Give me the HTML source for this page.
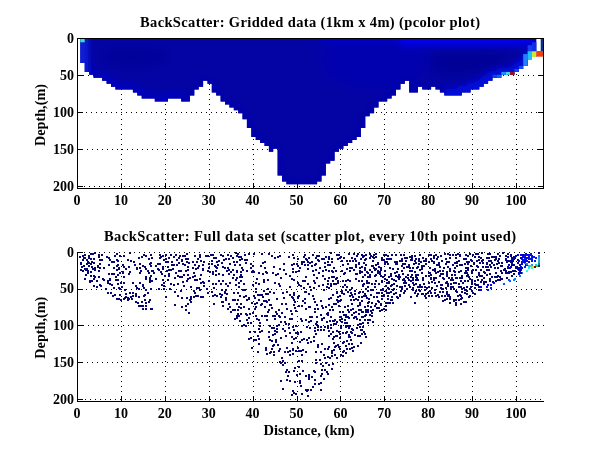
<!DOCTYPE html><html><head><meta charset="utf-8"><style>html,body{margin:0;padding:0;background:#fff}svg{display:block;will-change:transform;opacity:0.999}text{font-family:"Liberation Serif",serif;font-weight:bold;fill:#000}</style></head><body>
<svg width="600" height="451" viewBox="0 0 600 451">
<rect width="600" height="451" fill="#fff"/>
<defs><clipPath id="fc"><path d="M80.3 38.0 L80.3 63.0 L84.7 63.0 L84.7 71.9 L89.1 71.9 L89.1 74.8 L93.5 74.8 L93.5 77.8 L97.8 77.8 L97.8 77.8 L102.2 77.8 L102.2 80.7 L106.6 80.7 L106.6 83.7 L111.0 83.7 L111.0 86.7 L115.4 86.7 L115.4 89.6 L119.8 89.6 L119.8 89.6 L124.1 89.6 L124.1 89.6 L128.5 89.6 L128.5 89.6 L132.9 89.6 L132.9 92.6 L137.3 92.6 L137.3 95.5 L141.7 95.5 L141.7 98.5 L146.1 98.5 L146.1 98.5 L150.5 98.5 L150.5 98.5 L154.8 98.5 L154.8 101.5 L159.2 101.5 L159.2 101.5 L163.6 101.5 L163.6 101.5 L168.0 101.5 L168.0 98.5 L172.4 98.5 L172.4 98.5 L176.8 98.5 L176.8 98.5 L181.2 98.5 L181.2 101.5 L185.5 101.5 L185.5 101.5 L189.9 101.5 L189.9 95.5 L194.3 95.5 L194.3 89.6 L198.7 89.6 L198.7 86.7 L203.1 86.7 L203.1 80.7 L207.5 80.7 L207.5 83.7 L211.8 83.7 L211.8 92.6 L216.2 92.6 L216.2 95.5 L220.6 95.5 L220.6 101.5 L225.0 101.5 L225.0 104.4 L229.4 104.4 L229.4 107.4 L233.8 107.4 L233.8 110.3 L238.2 110.3 L238.2 113.3 L242.5 113.3 L242.5 119.2 L246.9 119.2 L246.9 128.1 L251.3 128.1 L251.3 137.0 L255.7 137.0 L255.7 139.9 L260.1 139.9 L260.1 142.9 L264.5 142.9 L264.5 145.9 L268.9 145.9 L268.9 151.8 L273.2 151.8 L273.2 148.8 L277.6 148.8 L277.6 175.5 L282.0 175.5 L282.0 181.4 L286.4 181.4 L286.4 184.3 L290.8 184.3 L290.8 184.3 L295.2 184.3 L295.2 184.3 L299.6 184.3 L299.6 184.3 L303.9 184.3 L303.9 184.3 L308.3 184.3 L308.3 184.3 L312.7 184.3 L312.7 184.3 L317.1 184.3 L317.1 181.4 L321.5 181.4 L321.5 175.5 L325.9 175.5 L325.9 163.6 L330.2 163.6 L330.2 160.7 L334.6 160.7 L334.6 151.8 L339.0 151.8 L339.0 148.8 L343.4 148.8 L343.4 145.9 L347.8 145.9 L347.8 142.9 L352.2 142.9 L352.2 139.9 L356.6 139.9 L356.6 137.0 L360.9 137.0 L360.9 128.1 L365.3 128.1 L365.3 116.3 L369.7 116.3 L369.7 113.3 L374.1 113.3 L374.1 107.4 L378.5 107.4 L378.5 101.5 L382.9 101.5 L382.9 101.5 L387.2 101.5 L387.2 98.5 L391.6 98.5 L391.6 95.5 L396.0 95.5 L396.0 89.6 L400.4 89.6 L400.4 83.7 L404.8 83.7 L404.8 80.7 L409.2 80.7 L409.2 92.6 L413.6 92.6 L413.6 92.6 L417.9 92.6 L417.9 86.7 L422.3 86.7 L422.3 89.6 L426.7 89.6 L426.7 89.6 L431.1 89.6 L431.1 86.7 L435.5 86.7 L435.5 89.6 L439.9 89.6 L439.9 92.6 L444.3 92.6 L444.3 95.5 L448.6 95.5 L448.6 95.5 L453.0 95.5 L453.0 95.5 L457.4 95.5 L457.4 95.5 L461.8 95.5 L461.8 92.6 L466.2 92.6 L466.2 92.6 L470.6 92.6 L470.6 89.6 L474.9 89.6 L474.9 89.6 L479.3 89.6 L479.3 86.7 L483.7 86.7 L483.7 83.7 L488.1 83.7 L488.1 80.7 L492.5 80.7 L492.5 77.8 L496.9 77.8 L496.9 77.8 L501.3 77.8 L501.3 74.8 L505.6 74.8 L505.6 74.8 L510.0 74.8 L510.0 74.8 L514.4 74.8 L514.4 71.9 L518.8 71.9 L518.8 68.9 L523.2 68.9 L523.2 65.9 L527.6 65.9 L527.6 60.0 L532.0 60.0 L532.0 57.1 L536.3 57.1 L536.3 38.0 Z"/></clipPath><filter id="b3" x="-20%" y="-50%" width="140%" height="200%"><feGaussianBlur stdDeviation="3"/></filter><filter id="b6" x="-20%" y="-50%" width="140%" height="200%"><feGaussianBlur stdDeviation="6"/></filter></defs>
<g shape-rendering="crispEdges">
<path d="M82 75h1M87 75h1M92 75h1M97 75h1M102 75h1M107 75h1M112 75h1M117 75h1M122 75h1M127 75h1M132 75h1M137 75h1M142 75h1M147 75h1M152 75h1M157 75h1M162 75h1M167 75h1M172 75h1M177 75h1M182 75h1M187 75h1M192 75h1M197 75h1M202 75h1M207 75h1M212 75h1M217 75h1M222 75h1M227 75h1M232 75h1M237 75h1M242 75h1M247 75h1M252 75h1M257 75h1M262 75h1M267 75h1M272 75h1M277 75h1M282 75h1M287 75h1M292 75h1M297 75h1M302 75h1M307 75h1M312 75h1M317 75h1M322 75h1M327 75h1M332 75h1M337 75h1M342 75h1M347 75h1M352 75h1M357 75h1M362 75h1M367 75h1M372 75h1M377 75h1M382 75h1M387 75h1M392 75h1M397 75h1M402 75h1M407 75h1M412 75h1M417 75h1M422 75h1M427 75h1M432 75h1M437 75h1M442 75h1M447 75h1M452 75h1M457 75h1M462 75h1M467 75h1M472 75h1M477 75h1M482 75h1M487 75h1M492 75h1M497 75h1M502 75h1M507 75h1M512 75h1M517 75h1M522 75h1M527 75h1M532 75h1M537 75h1M542 75h1M80 112h1M85 112h1M90 112h1M95 112h1M100 112h1M105 112h1M110 112h1M115 112h1M120 112h1M125 112h1M130 112h1M135 112h1M140 112h1M145 112h1M150 112h1M155 112h1M160 112h1M165 112h1M170 112h1M175 112h1M180 112h1M185 112h1M190 112h1M195 112h1M200 112h1M205 112h1M210 112h1M215 112h1M220 112h1M225 112h1M230 112h1M235 112h1M240 112h1M245 112h1M250 112h1M255 112h1M260 112h1M265 112h1M270 112h1M275 112h1M280 112h1M285 112h1M290 112h1M295 112h1M300 112h1M305 112h1M310 112h1M315 112h1M320 112h1M325 112h1M330 112h1M335 112h1M340 112h1M345 112h1M350 112h1M355 112h1M360 112h1M365 112h1M370 112h1M375 112h1M380 112h1M385 112h1M390 112h1M395 112h1M400 112h1M405 112h1M410 112h1M415 112h1M420 112h1M425 112h1M430 112h1M435 112h1M440 112h1M445 112h1M450 112h1M455 112h1M460 112h1M465 112h1M470 112h1M475 112h1M480 112h1M485 112h1M490 112h1M495 112h1M500 112h1M505 112h1M510 112h1M515 112h1M520 112h1M525 112h1M530 112h1M535 112h1M540 112h1M81 149h1M86 149h1M91 149h1M96 149h1M101 149h1M106 149h1M111 149h1M116 149h1M121 149h1M126 149h1M131 149h1M136 149h1M141 149h1M146 149h1M151 149h1M156 149h1M161 149h1M166 149h1M171 149h1M176 149h1M181 149h1M186 149h1M191 149h1M196 149h1M201 149h1M206 149h1M211 149h1M216 149h1M221 149h1M226 149h1M231 149h1M236 149h1M241 149h1M246 149h1M251 149h1M256 149h1M261 149h1M266 149h1M271 149h1M276 149h1M281 149h1M286 149h1M291 149h1M296 149h1M301 149h1M306 149h1M311 149h1M316 149h1M321 149h1M326 149h1M331 149h1M336 149h1M341 149h1M346 149h1M351 149h1M356 149h1M361 149h1M366 149h1M371 149h1M376 149h1M381 149h1M386 149h1M391 149h1M396 149h1M401 149h1M406 149h1M411 149h1M416 149h1M421 149h1M426 149h1M431 149h1M436 149h1M441 149h1M446 149h1M451 149h1M456 149h1M461 149h1M466 149h1M471 149h1M476 149h1M481 149h1M486 149h1M491 149h1M496 149h1M501 149h1M506 149h1M511 149h1M516 149h1M521 149h1M526 149h1M531 149h1M536 149h1M541 149h1M78 186h1M83 186h1M88 186h1M93 186h1M98 186h1M103 186h1M108 186h1M113 186h1M118 186h1M123 186h1M128 186h1M133 186h1M138 186h1M143 186h1M148 186h1M153 186h1M158 186h1M163 186h1M168 186h1M173 186h1M178 186h1M183 186h1M188 186h1M193 186h1M198 186h1M203 186h1M208 186h1M213 186h1M218 186h1M223 186h1M228 186h1M233 186h1M238 186h1M243 186h1M248 186h1M253 186h1M258 186h1M263 186h1M268 186h1M273 186h1M278 186h1M283 186h1M288 186h1M293 186h1M298 186h1M303 186h1M308 186h1M313 186h1M318 186h1M323 186h1M328 186h1M333 186h1M338 186h1M343 186h1M348 186h1M353 186h1M358 186h1M363 186h1M368 186h1M373 186h1M378 186h1M383 186h1M388 186h1M393 186h1M398 186h1M403 186h1M408 186h1M413 186h1M418 186h1M423 186h1M428 186h1M433 186h1M438 186h1M443 186h1M448 186h1M453 186h1M458 186h1M463 186h1M468 186h1M473 186h1M478 186h1M483 186h1M488 186h1M493 186h1M498 186h1M503 186h1M508 186h1M513 186h1M518 186h1M523 186h1M528 186h1M533 186h1M538 186h1M121 43v1M121 48v1M121 53v1M121 58v1M121 63v1M121 68v1M121 73v1M121 78v1M121 83v1M121 88v1M121 93v1M121 98v1M121 103v1M121 108v1M121 113v1M121 118v1M121 123v1M121 128v1M121 133v1M121 138v1M121 143v1M121 148v1M121 153v1M121 158v1M121 163v1M121 168v1M121 173v1M121 178v1M121 183v1M165 43v1M165 48v1M165 53v1M165 58v1M165 63v1M165 68v1M165 73v1M165 78v1M165 83v1M165 88v1M165 93v1M165 98v1M165 103v1M165 108v1M165 113v1M165 118v1M165 123v1M165 128v1M165 133v1M165 138v1M165 143v1M165 148v1M165 153v1M165 158v1M165 163v1M165 168v1M165 173v1M165 178v1M165 183v1M209 43v1M209 48v1M209 53v1M209 58v1M209 63v1M209 68v1M209 73v1M209 78v1M209 83v1M209 88v1M209 93v1M209 98v1M209 103v1M209 108v1M209 113v1M209 118v1M209 123v1M209 128v1M209 133v1M209 138v1M209 143v1M209 148v1M209 153v1M209 158v1M209 163v1M209 168v1M209 173v1M209 178v1M209 183v1M253 43v1M253 48v1M253 53v1M253 58v1M253 63v1M253 68v1M253 73v1M253 78v1M253 83v1M253 88v1M253 93v1M253 98v1M253 103v1M253 108v1M253 113v1M253 118v1M253 123v1M253 128v1M253 133v1M253 138v1M253 143v1M253 148v1M253 153v1M253 158v1M253 163v1M253 168v1M253 173v1M253 178v1M253 183v1M297 43v1M297 48v1M297 53v1M297 58v1M297 63v1M297 68v1M297 73v1M297 78v1M297 83v1M297 88v1M297 93v1M297 98v1M297 103v1M297 108v1M297 113v1M297 118v1M297 123v1M297 128v1M297 133v1M297 138v1M297 143v1M297 148v1M297 153v1M297 158v1M297 163v1M297 168v1M297 173v1M297 178v1M297 183v1M340 43v1M340 48v1M340 53v1M340 58v1M340 63v1M340 68v1M340 73v1M340 78v1M340 83v1M340 88v1M340 93v1M340 98v1M340 103v1M340 108v1M340 113v1M340 118v1M340 123v1M340 128v1M340 133v1M340 138v1M340 143v1M340 148v1M340 153v1M340 158v1M340 163v1M340 168v1M340 173v1M340 178v1M340 183v1M384 43v1M384 48v1M384 53v1M384 58v1M384 63v1M384 68v1M384 73v1M384 78v1M384 83v1M384 88v1M384 93v1M384 98v1M384 103v1M384 108v1M384 113v1M384 118v1M384 123v1M384 128v1M384 133v1M384 138v1M384 143v1M384 148v1M384 153v1M384 158v1M384 163v1M384 168v1M384 173v1M384 178v1M384 183v1M428 43v1M428 48v1M428 53v1M428 58v1M428 63v1M428 68v1M428 73v1M428 78v1M428 83v1M428 88v1M428 93v1M428 98v1M428 103v1M428 108v1M428 113v1M428 118v1M428 123v1M428 128v1M428 133v1M428 138v1M428 143v1M428 148v1M428 153v1M428 158v1M428 163v1M428 168v1M428 173v1M428 178v1M428 183v1M472 43v1M472 48v1M472 53v1M472 58v1M472 63v1M472 68v1M472 73v1M472 78v1M472 83v1M472 88v1M472 93v1M472 98v1M472 103v1M472 108v1M472 113v1M472 118v1M472 123v1M472 128v1M472 133v1M472 138v1M472 143v1M472 148v1M472 153v1M472 158v1M472 163v1M472 168v1M472 173v1M472 178v1M472 183v1M516 43v1M516 48v1M516 53v1M516 58v1M516 63v1M516 68v1M516 73v1M516 78v1M516 83v1M516 88v1M516 93v1M516 98v1M516 103v1M516 108v1M516 113v1M516 118v1M516 123v1M516 128v1M516 133v1M516 138v1M516 143v1M516 148v1M516 153v1M516 158v1M516 163v1M516 168v1M516 173v1M516 178v1M516 183v1" stroke="#000" stroke-width="1" fill="none" transform="translate(0.5,0.5)"/>
</g>
<g shape-rendering="crispEdges" fill="#000">
<rect x="78" y="75" width="5" height="1"/><rect x="538" y="75" width="5" height="1"/>
<rect x="78" y="112" width="5" height="1"/><rect x="538" y="112" width="5" height="1"/>
<rect x="78" y="149" width="5" height="1"/><rect x="538" y="149" width="5" height="1"/>
<rect x="78" y="186" width="5" height="1"/><rect x="538" y="186" width="5" height="1"/>
<rect x="121" y="183" width="1" height="5"/><rect x="121" y="39" width="1" height="5"/>
<rect x="165" y="183" width="1" height="5"/><rect x="165" y="39" width="1" height="5"/>
<rect x="209" y="183" width="1" height="5"/><rect x="209" y="39" width="1" height="5"/>
<rect x="253" y="183" width="1" height="5"/><rect x="253" y="39" width="1" height="5"/>
<rect x="297" y="183" width="1" height="5"/><rect x="297" y="39" width="1" height="5"/>
<rect x="340" y="183" width="1" height="5"/><rect x="340" y="39" width="1" height="5"/>
<rect x="384" y="183" width="1" height="5"/><rect x="384" y="39" width="1" height="5"/>
<rect x="428" y="183" width="1" height="5"/><rect x="428" y="39" width="1" height="5"/>
<rect x="472" y="183" width="1" height="5"/><rect x="472" y="39" width="1" height="5"/>
<rect x="516" y="183" width="1" height="5"/><rect x="516" y="39" width="1" height="5"/>
</g>
<g clip-path="url(#fc)">
<rect x="78" y="38" width="466" height="150" fill="#0404a4"/>
<g filter="url(#b6)">
<ellipse cx="375" cy="60" rx="55" ry="30" fill="#0000b4" opacity="0.7"/>
<ellipse cx="135" cy="57" rx="34" ry="9" fill="#00009a"/>
<path d="M430 54 L515 51 L508 60 L488 68 L455 76 L432 70Z" fill="#000096"/>
</g>
<g filter="url(#b3)" fill="none" stroke-linejoin="round">
<path d="M80.3 63.0 L84.7 63.0 L84.7 71.9 L89.1 71.9 L89.1 74.8 L93.5 74.8 L93.5 77.8 L97.8 77.8 L97.8 77.8 L102.2 77.8 L102.2 80.7 L106.6 80.7 L106.6 83.7 L111.0 83.7 L111.0 86.7 L115.4 86.7 L115.4 89.6 L119.8 89.6 L119.8 89.6 L124.1 89.6 L124.1 89.6 L128.5 89.6 L128.5 89.6 L132.9 89.6 L132.9 92.6 L137.3 92.6 L137.3 95.5 L141.7 95.5 L141.7 98.5 L146.1 98.5 L146.1 98.5 L150.5 98.5 L150.5 98.5 L154.8 98.5 L154.8 101.5 L159.2 101.5 L159.2 101.5 L163.6 101.5 L163.6 101.5 L168.0 101.5 L168.0 98.5 L172.4 98.5 L172.4 98.5 L176.8 98.5 L176.8 98.5 L181.2 98.5 L181.2 101.5 L185.5 101.5" stroke="#0404bc" stroke-width="12"/>
<path d="M181.2 101.5 L185.5 101.5 L185.5 101.5 L189.9 101.5 L189.9 95.5 L194.3 95.5 L194.3 89.6 L198.7 89.6 L198.7 86.7 L203.1 86.7 L203.1 80.7 L207.5 80.7 L207.5 83.7 L211.8 83.7 L211.8 92.6 L216.2 92.6 L216.2 95.5 L220.6 95.5 L220.6 101.5 L225.0 101.5 L225.0 104.4 L229.4 104.4 L229.4 107.4 L233.8 107.4 L233.8 110.3 L238.2 110.3 L238.2 113.3 L242.5 113.3 L242.5 119.2 L246.9 119.2 L246.9 128.1 L251.3 128.1 L251.3 137.0 L255.7 137.0 L255.7 139.9 L260.1 139.9 L260.1 142.9 L264.5 142.9 L264.5 145.9 L268.9 145.9 L268.9 151.8 L273.2 151.8 L273.2 148.8 L277.6 148.8 L277.6 175.5 L282.0 175.5 L282.0 181.4 L286.4 181.4 L286.4 184.3 L290.8 184.3 L290.8 184.3 L295.2 184.3 L295.2 184.3 L299.6 184.3 L299.6 184.3 L303.9 184.3 L303.9 184.3 L308.3 184.3 L308.3 184.3 L312.7 184.3 L312.7 184.3 L317.1 184.3 L317.1 181.4 L321.5 181.4 L321.5 175.5 L325.9 175.5 L325.9 163.6 L330.2 163.6 L330.2 160.7 L334.6 160.7 L334.6 151.8 L339.0 151.8 L339.0 148.8 L343.4 148.8 L343.4 145.9 L347.8 145.9 L347.8 142.9 L352.2 142.9 L352.2 139.9 L356.6 139.9 L356.6 137.0 L360.9 137.0 L360.9 128.1 L365.3 128.1 L365.3 116.3 L369.7 116.3 L369.7 113.3 L374.1 113.3 L374.1 107.4 L378.5 107.4 L378.5 101.5 L382.9 101.5 L382.9 101.5 L387.2 101.5 L387.2 98.5 L391.6 98.5 L391.6 95.5 L396.0 95.5 L396.0 89.6 L400.4 89.6 L400.4 83.7 L404.8 83.7 L404.8 80.7 L409.2 80.7 L409.2 92.6 L413.6 92.6 L413.6 92.6 L417.9 92.6 L417.9 86.7 L422.3 86.7 L422.3 89.6 L426.7 89.6 L426.7 89.6 L431.1 89.6 L431.1 86.7 L435.5 86.7 L435.5 89.6 L439.9 89.6 L439.9 92.6 L444.3 92.6 L444.3 95.5 L448.6 95.5" stroke="#0606aa" stroke-width="8"/>
<path d="M444.3 95.5 L448.6 95.5 L448.6 95.5 L453.0 95.5 L453.0 95.5 L457.4 95.5 L457.4 95.5 L461.8 95.5 L461.8 92.6 L466.2 92.6 L466.2 92.6 L470.6 92.6 L470.6 89.6 L474.9 89.6 L474.9 89.6 L479.3 89.6 L479.3 86.7 L483.7 86.7 L483.7 83.7 L488.1 83.7 L488.1 80.7 L492.5 80.7 L492.5 77.8 L496.9 77.8 L496.9 77.8 L501.3 77.8 L501.3 74.8 L505.6 74.8 L505.6 74.8 L510.0 74.8 L510.0 74.8 L514.4 74.8 L514.4 71.9 L518.8 71.9 L518.8 68.9 L523.2 68.9 L523.2 65.9 L527.6 65.9 L527.6 60.0 L532.0 60.0 L532.0 57.1 L536.3 57.1" stroke="#0008dc" stroke-width="14"/>
<rect x="400" y="36" width="135" height="10" fill="#0000ec" stroke="none"/>
<rect x="320" y="36" width="80" height="7" fill="#0000c8" stroke="none"/>
<rect x="75" y="36" width="13" height="42" fill="#0c1cd8" stroke="none"/>
</g>
</g>
<g>
<rect x="80.3" y="38.5" width="4.4" height="3.8" fill="#30e0d0"/>
<rect x="510.0" y="71.9" width="4.4" height="3.0" fill="#a01010"/>
<rect x="505.6" y="71.9" width="4.4" height="3.0" fill="#40d8e8"/>
<rect x="501.3" y="71.9" width="4.4" height="3.0" fill="#2090ff"/>
<rect x="496.9" y="74.8" width="4.4" height="3.0" fill="#1060f0"/>
<rect x="492.5" y="74.8" width="4.4" height="3.0" fill="#1040e8"/>
<rect x="514.4" y="68.9" width="4.4" height="3.0" fill="#1848f0"/>
<rect x="518.8" y="65.9" width="4.4" height="3.0" fill="#1848f0"/>
<rect x="523.2" y="54.1" width="4.4" height="11.8" fill="#2080ff"/>
<rect x="527.6" y="51.1" width="4.4" height="8.9" fill="#20c0ff"/>
<rect x="527.6" y="45.2" width="4.4" height="5.9" fill="#1040f0"/>
<rect x="532.0" y="51.1" width="4.4" height="5.9" fill="#c8e838"/>
<rect x="532.0" y="42.3" width="4.4" height="8.9" fill="#1030e8"/>
<rect x="536.3" y="51" width="7" height="5.7" fill="#f04010"/>
<rect x="540.7" y="39" width="2.5" height="12" fill="#003090"/>
</g>
<g shape-rendering="crispEdges" fill="#000">
<rect x="77" y="38" width="467" height="1"/><rect x="77" y="188" width="467" height="1"/><rect x="77" y="38" width="1" height="151"/><rect x="543" y="38" width="1" height="151"/>
</g>
<g shape-rendering="crispEdges"><path d="M78 252h1M83 252h1M88 252h1M93 252h1M98 252h1M103 252h1M108 252h1M113 252h1M118 252h1M123 252h1M128 252h1M133 252h1M138 252h1M143 252h1M148 252h1M153 252h1M158 252h1M163 252h1M168 252h1M173 252h1M178 252h1M183 252h1M188 252h1M193 252h1M198 252h1M203 252h1M208 252h1M213 252h1M218 252h1M223 252h1M228 252h1M233 252h1M238 252h1M243 252h1M248 252h1M253 252h1M258 252h1M263 252h1M268 252h1M273 252h1M278 252h1M283 252h1M288 252h1M293 252h1M298 252h1M303 252h1M308 252h1M313 252h1M318 252h1M323 252h1M328 252h1M333 252h1M338 252h1M343 252h1M348 252h1M353 252h1M358 252h1M363 252h1M368 252h1M373 252h1M378 252h1M383 252h1M388 252h1M393 252h1M398 252h1M403 252h1M408 252h1M413 252h1M418 252h1M423 252h1M428 252h1M433 252h1M438 252h1M443 252h1M448 252h1M453 252h1M458 252h1M463 252h1M468 252h1M473 252h1M478 252h1M483 252h1M488 252h1M493 252h1M498 252h1M503 252h1M508 252h1M513 252h1M518 252h1M523 252h1M528 252h1M533 252h1M538 252h1M543 252h1M80 289h1M85 289h1M90 289h1M95 289h1M100 289h1M105 289h1M110 289h1M115 289h1M120 289h1M125 289h1M130 289h1M135 289h1M140 289h1M145 289h1M150 289h1M155 289h1M160 289h1M165 289h1M170 289h1M175 289h1M180 289h1M185 289h1M190 289h1M195 289h1M200 289h1M205 289h1M210 289h1M215 289h1M220 289h1M225 289h1M230 289h1M235 289h1M240 289h1M245 289h1M250 289h1M255 289h1M260 289h1M265 289h1M270 289h1M275 289h1M280 289h1M285 289h1M290 289h1M295 289h1M300 289h1M305 289h1M310 289h1M315 289h1M320 289h1M325 289h1M330 289h1M335 289h1M340 289h1M345 289h1M350 289h1M355 289h1M360 289h1M365 289h1M370 289h1M375 289h1M380 289h1M385 289h1M390 289h1M395 289h1M400 289h1M405 289h1M410 289h1M415 289h1M420 289h1M425 289h1M430 289h1M435 289h1M440 289h1M445 289h1M450 289h1M455 289h1M460 289h1M465 289h1M470 289h1M475 289h1M480 289h1M485 289h1M490 289h1M495 289h1M500 289h1M505 289h1M510 289h1M515 289h1M520 289h1M525 289h1M530 289h1M535 289h1M540 289h1M82 325h1M87 325h1M92 325h1M97 325h1M102 325h1M107 325h1M112 325h1M117 325h1M122 325h1M127 325h1M132 325h1M137 325h1M142 325h1M147 325h1M152 325h1M157 325h1M162 325h1M167 325h1M172 325h1M177 325h1M182 325h1M187 325h1M192 325h1M197 325h1M202 325h1M207 325h1M212 325h1M217 325h1M222 325h1M227 325h1M232 325h1M237 325h1M242 325h1M247 325h1M252 325h1M257 325h1M262 325h1M267 325h1M272 325h1M277 325h1M282 325h1M287 325h1M292 325h1M297 325h1M302 325h1M307 325h1M312 325h1M317 325h1M322 325h1M327 325h1M332 325h1M337 325h1M342 325h1M347 325h1M352 325h1M357 325h1M362 325h1M367 325h1M372 325h1M377 325h1M382 325h1M387 325h1M392 325h1M397 325h1M402 325h1M407 325h1M412 325h1M417 325h1M422 325h1M427 325h1M432 325h1M437 325h1M442 325h1M447 325h1M452 325h1M457 325h1M462 325h1M467 325h1M472 325h1M477 325h1M482 325h1M487 325h1M492 325h1M497 325h1M502 325h1M507 325h1M512 325h1M517 325h1M522 325h1M527 325h1M532 325h1M537 325h1M542 325h1M81 362h1M86 362h1M91 362h1M96 362h1M101 362h1M106 362h1M111 362h1M116 362h1M121 362h1M126 362h1M131 362h1M136 362h1M141 362h1M146 362h1M151 362h1M156 362h1M161 362h1M166 362h1M171 362h1M176 362h1M181 362h1M186 362h1M191 362h1M196 362h1M201 362h1M206 362h1M211 362h1M216 362h1M221 362h1M226 362h1M231 362h1M236 362h1M241 362h1M246 362h1M251 362h1M256 362h1M261 362h1M266 362h1M271 362h1M276 362h1M281 362h1M286 362h1M291 362h1M296 362h1M301 362h1M306 362h1M311 362h1M316 362h1M321 362h1M326 362h1M331 362h1M336 362h1M341 362h1M346 362h1M351 362h1M356 362h1M361 362h1M366 362h1M371 362h1M376 362h1M381 362h1M386 362h1M391 362h1M396 362h1M401 362h1M406 362h1M411 362h1M416 362h1M421 362h1M426 362h1M431 362h1M436 362h1M441 362h1M446 362h1M451 362h1M456 362h1M461 362h1M466 362h1M471 362h1M476 362h1M481 362h1M486 362h1M491 362h1M496 362h1M501 362h1M506 362h1M511 362h1M516 362h1M521 362h1M526 362h1M531 362h1M536 362h1M541 362h1M79 399h1M84 399h1M89 399h1M94 399h1M99 399h1M104 399h1M109 399h1M114 399h1M119 399h1M124 399h1M129 399h1M134 399h1M139 399h1M144 399h1M149 399h1M154 399h1M159 399h1M164 399h1M169 399h1M174 399h1M179 399h1M184 399h1M189 399h1M194 399h1M199 399h1M204 399h1M209 399h1M214 399h1M219 399h1M224 399h1M229 399h1M234 399h1M239 399h1M244 399h1M249 399h1M254 399h1M259 399h1M264 399h1M269 399h1M274 399h1M279 399h1M284 399h1M289 399h1M294 399h1M299 399h1M304 399h1M309 399h1M314 399h1M319 399h1M324 399h1M329 399h1M334 399h1M339 399h1M344 399h1M349 399h1M354 399h1M359 399h1M364 399h1M369 399h1M374 399h1M379 399h1M384 399h1M389 399h1M394 399h1M399 399h1M404 399h1M409 399h1M414 399h1M419 399h1M424 399h1M429 399h1M434 399h1M439 399h1M444 399h1M449 399h1M454 399h1M459 399h1M464 399h1M469 399h1M474 399h1M479 399h1M484 399h1M489 399h1M494 399h1M499 399h1M504 399h1M509 399h1M514 399h1M519 399h1M524 399h1M529 399h1M534 399h1M539 399h1M121 255v1M121 260v1M121 265v1M121 270v1M121 275v1M121 280v1M121 285v1M121 290v1M121 295v1M121 300v1M121 305v1M121 310v1M121 315v1M121 320v1M121 325v1M121 330v1M121 335v1M121 340v1M121 345v1M121 350v1M121 355v1M121 360v1M121 365v1M121 370v1M121 375v1M121 380v1M121 385v1M121 390v1M121 395v1M121 400v1M165 255v1M165 260v1M165 265v1M165 270v1M165 275v1M165 280v1M165 285v1M165 290v1M165 295v1M165 300v1M165 305v1M165 310v1M165 315v1M165 320v1M165 325v1M165 330v1M165 335v1M165 340v1M165 345v1M165 350v1M165 355v1M165 360v1M165 365v1M165 370v1M165 375v1M165 380v1M165 385v1M165 390v1M165 395v1M165 400v1M209 255v1M209 260v1M209 265v1M209 270v1M209 275v1M209 280v1M209 285v1M209 290v1M209 295v1M209 300v1M209 305v1M209 310v1M209 315v1M209 320v1M209 325v1M209 330v1M209 335v1M209 340v1M209 345v1M209 350v1M209 355v1M209 360v1M209 365v1M209 370v1M209 375v1M209 380v1M209 385v1M209 390v1M209 395v1M209 400v1M253 255v1M253 260v1M253 265v1M253 270v1M253 275v1M253 280v1M253 285v1M253 290v1M253 295v1M253 300v1M253 305v1M253 310v1M253 315v1M253 320v1M253 325v1M253 330v1M253 335v1M253 340v1M253 345v1M253 350v1M253 355v1M253 360v1M253 365v1M253 370v1M253 375v1M253 380v1M253 385v1M253 390v1M253 395v1M253 400v1M297 255v1M297 260v1M297 265v1M297 270v1M297 275v1M297 280v1M297 285v1M297 290v1M297 295v1M297 300v1M297 305v1M297 310v1M297 315v1M297 320v1M297 325v1M297 330v1M297 335v1M297 340v1M297 345v1M297 350v1M297 355v1M297 360v1M297 365v1M297 370v1M297 375v1M297 380v1M297 385v1M297 390v1M297 395v1M297 400v1M340 255v1M340 260v1M340 265v1M340 270v1M340 275v1M340 280v1M340 285v1M340 290v1M340 295v1M340 300v1M340 305v1M340 310v1M340 315v1M340 320v1M340 325v1M340 330v1M340 335v1M340 340v1M340 345v1M340 350v1M340 355v1M340 360v1M340 365v1M340 370v1M340 375v1M340 380v1M340 385v1M340 390v1M340 395v1M340 400v1M384 255v1M384 260v1M384 265v1M384 270v1M384 275v1M384 280v1M384 285v1M384 290v1M384 295v1M384 300v1M384 305v1M384 310v1M384 315v1M384 320v1M384 325v1M384 330v1M384 335v1M384 340v1M384 345v1M384 350v1M384 355v1M384 360v1M384 365v1M384 370v1M384 375v1M384 380v1M384 385v1M384 390v1M384 395v1M384 400v1M428 255v1M428 260v1M428 265v1M428 270v1M428 275v1M428 280v1M428 285v1M428 290v1M428 295v1M428 300v1M428 305v1M428 310v1M428 315v1M428 320v1M428 325v1M428 330v1M428 335v1M428 340v1M428 345v1M428 350v1M428 355v1M428 360v1M428 365v1M428 370v1M428 375v1M428 380v1M428 385v1M428 390v1M428 395v1M428 400v1M472 255v1M472 260v1M472 265v1M472 270v1M472 275v1M472 280v1M472 285v1M472 290v1M472 295v1M472 300v1M472 305v1M472 310v1M472 315v1M472 320v1M472 325v1M472 330v1M472 335v1M472 340v1M472 345v1M472 350v1M472 355v1M472 360v1M472 365v1M472 370v1M472 375v1M472 380v1M472 385v1M472 390v1M472 395v1M472 400v1M516 255v1M516 260v1M516 265v1M516 270v1M516 275v1M516 280v1M516 285v1M516 290v1M516 295v1M516 300v1M516 305v1M516 310v1M516 315v1M516 320v1M516 325v1M516 330v1M516 335v1M516 340v1M516 345v1M516 350v1M516 355v1M516 360v1M516 365v1M516 370v1M516 375v1M516 380v1M516 385v1M516 390v1M516 395v1M516 400v1" stroke="#000" stroke-width="1" fill="none" transform="translate(0.5,0.5)"/></g>
<g shape-rendering="crispEdges">
<path d="M89 280h2v2h-2zM85 274h2v2h-2zM91 280h2v2h-2zM81 266h2v2h-2zM85 269h2v2h-2zM87 272h2v2h-2zM90 275h2v2h-2zM93 278h2v2h-2zM80 263h2v2h-2zM84 268h2v2h-2zM87 270h2v2h-2zM94 276h2v2h-2zM96 280h2v2h-2zM80 262h2v2h-2zM83 265h2v2h-2zM86 268h2v2h-2zM90 271h2v2h-2zM93 275h2v2h-2zM79 256h2v2h-2zM82 259h2v2h-2zM86 263h2v2h-2zM88 265h2v2h-2zM92 268h2v2h-2zM98 276h2v2h-2zM102 278h2v2h-2zM83 257h2v2h-2zM86 259h2v2h-2zM88 262h2v2h-2zM91 266h2v2h-2zM94 269h2v2h-2zM103 279h2v2h-2zM107 282h2v2h-2zM111 284h2v2h-2zM113 287h2v2h-2zM119 294h2v2h-2zM82 255h2v2h-2zM84 257h2v2h-2zM87 261h2v2h-2zM90 263h2v2h-2zM94 267h2v2h-2zM98 270h2v2h-2zM107 280h2v2h-2zM109 283h2v2h-2zM84 254h2v2h-2zM88 257h2v2h-2zM91 261h2v2h-2zM97 266h2v2h-2zM109 279h2v2h-2zM119 288h2v2h-2zM125 296h2v2h-2zM127 299h2v2h-2zM88 255h2v2h-2zM90 258h2v2h-2zM93 262h2v2h-2zM97 265h2v2h-2zM99 267h2v2h-2zM109 278h2v2h-2zM118 287h2v2h-2zM125 293h2v2h-2zM90 253h2v2h-2zM93 258h2v2h-2zM99 263h2v2h-2zM103 267h2v2h-2zM108 273h2v2h-2zM115 279h2v2h-2zM117 283h2v2h-2zM121 286h2v2h-2zM124 289h2v2h-2zM130 296h2v2h-2zM92 253h2v2h-2zM99 259h2v2h-2zM111 273h2v2h-2zM115 276h2v2h-2zM117 279h2v2h-2zM120 282h2v2h-2zM129 292h2v2h-2zM132 295h2v2h-2zM142 305h2v2h-2zM94 252h2v2h-2zM98 256h2v2h-2zM101 259h2v2h-2zM113 273h2v2h-2zM123 282h2v2h-2zM132 292h2v2h-2zM135 295h2v2h-2zM141 301h2v2h-2zM145 305h2v2h-2zM98 254h2v2h-2zM108 264h2v2h-2zM117 274h2v2h-2zM135 293h2v2h-2zM138 296h2v2h-2zM145 302h2v2h-2zM101 254h2v2h-2zM113 267h2v2h-2zM116 269h2v2h-2zM119 272h2v2h-2zM123 276h2v2h-2zM144 299h2v2h-2zM148 301h2v2h-2zM106 256h2v2h-2zM109 259h2v2h-2zM116 265h2v2h-2zM118 268h2v2h-2zM122 272h2v2h-2zM132 282h2v2h-2zM135 285h2v2h-2zM143 295h2v2h-2zM108 257h2v2h-2zM111 261h2v2h-2zM118 267h2v2h-2zM136 287h2v2h-2zM149 299h2v2h-2zM113 261h2v2h-2zM117 264h2v2h-2zM122 271h2v2h-2zM138 288h2v2h-2zM144 294h2v2h-2zM117 260h2v2h-2zM123 266h2v2h-2zM128 273h2v2h-2zM139 282h2v2h-2zM142 285h2v2h-2zM145 289h2v2h-2zM147 292h2v2h-2zM114 255h2v2h-2zM116 259h2v2h-2zM122 264h2v2h-2zM125 268h2v2h-2zM129 271h2v2h-2zM142 284h2v2h-2zM143 287h2v2h-2zM116 253h2v2h-2zM119 255h2v2h-2zM128 266h2v2h-2zM150 288h2v2h-2zM127 259h2v2h-2zM136 268h2v2h-2zM139 272h2v2h-2zM145 278h2v2h-2zM149 281h2v2h-2zM123 255h2v2h-2zM130 260h2v2h-2zM134 264h2v2h-2zM136 267h2v2h-2zM140 270h2v2h-2zM145 276h2v2h-2zM149 279h2v2h-2zM158 288h2v2h-2zM165 296h2v2h-2zM174 304h2v2h-2zM133 261h2v2h-2zM139 267h2v2h-2zM149 277h2v2h-2zM151 280h2v2h-2zM129 252h2v2h-2zM139 263h2v2h-2zM142 265h2v2h-2zM145 268h2v2h-2zM148 272h2v2h-2zM150 275h2v2h-2zM155 278h2v2h-2zM161 284h2v2h-2zM163 288h2v2h-2zM181 306h2v2h-2zM185 309h2v2h-2zM144 266h2v2h-2zM147 270h2v2h-2zM163 285h2v2h-2zM188 312h2v2h-2zM138 257h2v2h-2zM151 270h2v2h-2zM153 272h2v2h-2zM163 282h2v2h-2zM169 288h2v2h-2zM185 305h2v2h-2zM141 256h2v2h-2zM150 265h2v2h-2zM152 270h2v2h-2zM162 279h2v2h-2zM174 291h2v2h-2zM177 295h2v2h-2zM181 297h2v2h-2zM187 303h2v2h-2zM149 263h2v2h-2zM143 254h2v2h-2zM155 265h2v2h-2zM158 269h2v2h-2zM161 273h2v2h-2zM167 279h2v2h-2zM170 283h2v2h-2zM190 301h2v2h-2zM145 255h2v2h-2zM148 258h2v2h-2zM150 262h2v2h-2zM157 268h2v2h-2zM160 271h2v2h-2zM164 275h2v2h-2zM173 284h2v2h-2zM180 290h2v2h-2zM186 297h2v2h-2zM189 299h2v2h-2zM151 257h2v2h-2zM157 263h2v2h-2zM162 268h2v2h-2zM168 275h2v2h-2zM190 298h2v2h-2zM150 254h2v2h-2zM159 263h2v2h-2zM162 266h2v2h-2zM166 270h2v2h-2zM168 273h2v2h-2zM177 283h2v2h-2zM190 296h2v2h-2zM168 269h2v2h-2zM174 277h2v2h-2zM183 285h2v2h-2zM193 296h2v2h-2zM282 388h2v2h-2zM159 257h2v2h-2zM167 266h2v2h-2zM170 269h2v2h-2zM177 275h2v2h-2zM182 281h2v2h-2zM195 295h2v2h-2zM280 380h2v2h-2zM291 394h2v2h-2zM160 256h2v2h-2zM163 259h2v2h-2zM175 272h2v2h-2zM179 276h2v2h-2zM194 292h2v2h-2zM197 295h2v2h-2zM159 254h2v2h-2zM165 261h2v2h-2zM172 268h2v2h-2zM181 276h2v2h-2zM190 286h2v2h-2zM193 290h2v2h-2zM200 296h2v2h-2zM293 392h2v2h-2zM162 255h2v2h-2zM165 258h2v2h-2zM167 261h2v2h-2zM171 264h2v2h-2zM178 270h2v2h-2zM186 280h2v2h-2zM202 296h2v2h-2zM251 347h2v2h-2zM292 390h2v2h-2zM295 393h2v2h-2zM165 254h2v2h-2zM168 257h2v2h-2zM171 261h2v2h-2zM173 264h2v2h-2zM180 270h2v2h-2zM183 274h2v2h-2zM187 278h2v2h-2zM196 287h2v2h-2zM199 289h2v2h-2zM257 351h2v2h-2zM286 379h2v2h-2zM176 264h2v2h-2zM187 274h2v2h-2zM189 277h2v2h-2zM198 287h2v2h-2zM213 303h2v2h-2zM248 338h2v2h-2zM289 380h2v2h-2zM301 393h2v2h-2zM170 254h2v2h-2zM173 256h2v2h-2zM176 259h2v2h-2zM178 262h2v2h-2zM185 270h2v2h-2zM192 276h2v2h-2zM194 279h2v2h-2zM207 292h2v2h-2zM250 337h2v2h-2zM253 339h2v2h-2zM266 353h2v2h-2zM285 371h2v2h-2zM287 375h2v2h-2zM294 381h2v2h-2zM307 395h2v2h-2zM182 263h2v2h-2zM187 269h2v2h-2zM194 275h2v2h-2zM196 279h2v2h-2zM200 282h2v2h-2zM203 285h2v2h-2zM206 288h2v2h-2zM212 295h2v2h-2zM222 305h2v2h-2zM234 318h2v2h-2zM241 325h2v2h-2zM255 339h2v2h-2zM258 343h2v2h-2zM265 349h2v2h-2zM269 352h2v2h-2zM300 385h2v2h-2zM306 390h2v2h-2zM175 254h2v2h-2zM178 257h2v2h-2zM181 260h2v2h-2zM184 264h2v2h-2zM187 266h2v2h-2zM193 272h2v2h-2zM203 282h2v2h-2zM216 295h2v2h-2zM222 301h2v2h-2zM227 308h2v2h-2zM230 311h2v2h-2zM236 317h2v2h-2zM243 324h2v2h-2zM249 331h2v2h-2zM265 347h2v2h-2zM280 362h2v2h-2zM286 369h2v2h-2zM299 382h2v2h-2zM305 389h2v2h-2zM181 259h2v2h-2zM199 278h2v2h-2zM202 281h2v2h-2zM211 291h2v2h-2zM214 294h2v2h-2zM221 301h2v2h-2zM236 315h2v2h-2zM239 320h2v2h-2zM245 325h2v2h-2zM258 338h2v2h-2zM270 351h2v2h-2zM273 354h2v2h-2zM279 361h2v2h-2zM282 364h2v2h-2zM288 371h2v2h-2zM299 380h2v2h-2zM307 389h2v2h-2zM179 255h2v2h-2zM186 261h2v2h-2zM192 267h2v2h-2zM220 296h2v2h-2zM229 306h2v2h-2zM232 309h2v2h-2zM238 315h2v2h-2zM254 331h2v2h-2zM257 335h2v2h-2zM273 351h2v2h-2zM282 360h2v2h-2zM310 389h2v2h-2zM182 255h2v2h-2zM185 258h2v2h-2zM188 262h2v2h-2zM195 268h2v2h-2zM200 274h2v2h-2zM213 287h2v2h-2zM219 293h2v2h-2zM225 299h2v2h-2zM228 303h2v2h-2zM234 309h2v2h-2zM237 313h2v2h-2zM247 322h2v2h-2zM271 348h2v2h-2zM281 357h2v2h-2zM284 362h2v2h-2zM293 370h2v2h-2zM296 374h2v2h-2zM184 255h2v2h-2zM187 258h2v2h-2zM194 264h2v2h-2zM197 267h2v2h-2zM208 280h2v2h-2zM212 283h2v2h-2zM221 294h2v2h-2zM225 297h2v2h-2zM237 309h2v2h-2zM240 313h2v2h-2zM246 319h2v2h-2zM250 322h2v2h-2zM259 331h2v2h-2zM272 345h2v2h-2zM278 350h2v2h-2zM294 367h2v2h-2zM299 373h2v2h-2zM312 386h2v2h-2zM186 253h2v2h-2zM192 261h2v2h-2zM202 269h2v2h-2zM215 283h2v2h-2zM221 289h2v2h-2zM224 292h2v2h-2zM240 307h2v2h-2zM246 314h2v2h-2zM248 317h2v2h-2zM258 328h2v2h-2zM261 330h2v2h-2zM268 336h2v2h-2zM271 340h2v2h-2zM273 344h2v2h-2zM305 375h2v2h-2zM308 378h2v2h-2zM196 261h2v2h-2zM198 265h2v2h-2zM202 268h2v2h-2zM224 291h2v2h-2zM226 293h2v2h-2zM232 299h2v2h-2zM236 303h2v2h-2zM238 306h2v2h-2zM245 313h2v2h-2zM269 339h2v2h-2zM279 348h2v2h-2zM298 366h2v2h-2zM308 376h2v2h-2zM314 383h2v2h-2zM320 389h2v2h-2zM207 270h2v2h-2zM220 283h2v2h-2zM225 289h2v2h-2zM234 299h2v2h-2zM259 325h2v2h-2zM275 341h2v2h-2zM277 344h2v2h-2zM284 351h2v2h-2zM302 370h2v2h-2zM194 255h2v2h-2zM197 258h2v2h-2zM200 260h2v2h-2zM202 264h2v2h-2zM209 271h2v2h-2zM212 273h2v2h-2zM218 280h2v2h-2zM237 299h2v2h-2zM240 303h2v2h-2zM243 306h2v2h-2zM249 313h2v2h-2zM256 318h2v2h-2zM259 322h2v2h-2zM268 331h2v2h-2zM272 334h2v2h-2zM275 339h2v2h-2zM287 351h2v2h-2zM289 354h2v2h-2zM308 374h2v2h-2zM311 376h2v2h-2zM314 379h2v2h-2zM318 383h2v2h-2zM199 256h2v2h-2zM203 261h2v2h-2zM208 267h2v2h-2zM212 271h2v2h-2zM215 274h2v2h-2zM222 280h2v2h-2zM225 283h2v2h-2zM227 285h2v2h-2zM233 292h2v2h-2zM248 308h2v2h-2zM252 312h2v2h-2zM255 315h2v2h-2zM258 319h2v2h-2zM274 333h2v2h-2zM286 347h2v2h-2zM289 350h2v2h-2zM292 353h2v2h-2zM298 360h2v2h-2zM320 382h2v2h-2zM199 254h2v2h-2zM208 263h2v2h-2zM215 270h2v2h-2zM218 273h2v2h-2zM237 292h2v2h-2zM239 295h2v2h-2zM271 327h2v2h-2zM274 330h2v2h-2zM280 337h2v2h-2zM292 349h2v2h-2zM301 360h2v2h-2zM314 371h2v2h-2zM211 263h2v2h-2zM215 266h2v2h-2zM229 282h2v2h-2zM243 296h2v2h-2zM246 299h2v2h-2zM254 308h2v2h-2zM261 315h2v2h-2zM269 325h2v2h-2zM273 327h2v2h-2zM276 331h2v2h-2zM292 348h2v2h-2zM295 350h2v2h-2zM313 370h2v2h-2zM320 375h2v2h-2zM323 378h2v2h-2zM205 255h2v2h-2zM211 260h2v2h-2zM214 265h2v2h-2zM216 267h2v2h-2zM222 274h2v2h-2zM245 295h2v2h-2zM248 298h2v2h-2zM251 302h2v2h-2zM255 306h2v2h-2zM264 315h2v2h-2zM266 319h2v2h-2zM276 328h2v2h-2zM298 350h2v2h-2zM301 354h2v2h-2zM207 255h2v2h-2zM217 264h2v2h-2zM235 284h2v2h-2zM238 286h2v2h-2zM242 289h2v2h-2zM248 297h2v2h-2zM254 303h2v2h-2zM266 315h2v2h-2zM276 325h2v2h-2zM285 335h2v2h-2zM291 342h2v2h-2zM297 347h2v2h-2zM300 350h2v2h-2zM321 373h2v2h-2zM210 254h2v2h-2zM213 257h2v2h-2zM216 261h2v2h-2zM222 266h2v2h-2zM226 270h2v2h-2zM228 273h2v2h-2zM232 277h2v2h-2zM235 279h2v2h-2zM238 282h2v2h-2zM244 289h2v2h-2zM256 302h2v2h-2zM260 304h2v2h-2zM278 324h2v2h-2zM282 328h2v2h-2zM284 330h2v2h-2zM291 336h2v2h-2zM302 349h2v2h-2zM315 362h2v2h-2zM321 369h2v2h-2zM212 254h2v2h-2zM215 257h2v2h-2zM218 260h2v2h-2zM224 267h2v2h-2zM228 269h2v2h-2zM253 295h2v2h-2zM267 311h2v2h-2zM272 315h2v2h-2zM274 318h2v2h-2zM293 338h2v2h-2zM305 351h2v2h-2zM315 359h2v2h-2zM322 365h2v2h-2zM324 369h2v2h-2zM327 373h2v2h-2zM221 262h2v2h-2zM227 267h2v2h-2zM230 271h2v2h-2zM233 274h2v2h-2zM236 277h2v2h-2zM240 280h2v2h-2zM243 283h2v2h-2zM254 297h2v2h-2zM258 299h2v2h-2zM261 303h2v2h-2zM264 306h2v2h-2zM268 309h2v2h-2zM274 315h2v2h-2zM280 321h2v2h-2zM289 332h2v2h-2zM295 337h2v2h-2zM299 341h2v2h-2zM320 363h2v2h-2zM326 371h2v2h-2zM223 259h2v2h-2zM232 269h2v2h-2zM236 271h2v2h-2zM239 276h2v2h-2zM255 291h2v2h-2zM257 294h2v2h-2zM263 300h2v2h-2zM276 313h2v2h-2zM279 316h2v2h-2zM285 323h2v2h-2zM288 327h2v2h-2zM295 332h2v2h-2zM301 339h2v2h-2zM319 359h2v2h-2zM220 254h2v2h-2zM229 263h2v2h-2zM236 270h2v2h-2zM241 276h2v2h-2zM266 301h2v2h-2zM270 304h2v2h-2zM275 311h2v2h-2zM278 315h2v2h-2zM284 321h2v2h-2zM288 323h2v2h-2zM293 329h2v2h-2zM297 333h2v2h-2zM307 342h2v2h-2zM325 362h2v2h-2zM331 368h2v2h-2zM222 255h2v2h-2zM225 258h2v2h-2zM240 274h2v2h-2zM259 294h2v2h-2zM262 296h2v2h-2zM265 300h2v2h-2zM269 304h2v2h-2zM271 307h2v2h-2zM297 332h2v2h-2zM303 338h2v2h-2zM315 351h2v2h-2zM328 364h2v2h-2zM228 258h2v2h-2zM234 264h2v2h-2zM240 271h2v2h-2zM252 284h2v2h-2zM255 288h2v2h-2zM261 294h2v2h-2zM268 299h2v2h-2zM278 309h2v2h-2zM281 312h2v2h-2zM284 316h2v2h-2zM292 326h2v2h-2zM300 331h2v2h-2zM306 339h2v2h-2zM324 357h2v2h-2zM227 254h2v2h-2zM233 261h2v2h-2zM242 269h2v2h-2zM255 282h2v2h-2zM265 293h2v2h-2zM289 318h2v2h-2zM295 325h2v2h-2zM308 337h2v2h-2zM310 341h2v2h-2zM317 346h2v2h-2zM320 351h2v2h-2zM323 354h2v2h-2zM327 356h2v2h-2zM332 363h2v2h-2zM230 255h2v2h-2zM232 257h2v2h-2zM236 261h2v2h-2zM239 264h2v2h-2zM241 267h2v2h-2zM246 270h2v2h-2zM258 283h2v2h-2zM263 290h2v2h-2zM267 293h2v2h-2zM291 318h2v2h-2zM313 340h2v2h-2zM317 344h2v2h-2zM329 357h2v2h-2zM236 255h2v2h-2zM239 259h2v2h-2zM251 271h2v2h-2zM256 278h2v2h-2zM267 288h2v2h-2zM269 291h2v2h-2zM276 298h2v2h-2zM281 303h2v2h-2zM286 308h2v2h-2zM291 313h2v2h-2zM313 336h2v2h-2zM324 348h2v2h-2zM331 355h2v2h-2zM235 252h2v2h-2zM238 256h2v2h-2zM241 258h2v2h-2zM245 262h2v2h-2zM253 271h2v2h-2zM263 281h2v2h-2zM273 292h2v2h-2zM285 303h2v2h-2zM290 310h2v2h-2zM301 320h2v2h-2zM306 326h2v2h-2zM321 343h2v2h-2zM327 348h2v2h-2zM331 352h2v2h-2zM334 354h2v2h-2zM237 253h2v2h-2zM240 256h2v2h-2zM244 259h2v2h-2zM250 267h2v2h-2zM252 270h2v2h-2zM263 279h2v2h-2zM300 318h2v2h-2zM309 327h2v2h-2zM315 333h2v2h-2zM328 346h2v2h-2zM331 350h2v2h-2zM336 357h2v2h-2zM246 259h2v2h-2zM250 263h2v2h-2zM252 265h2v2h-2zM258 272h2v2h-2zM283 297h2v2h-2zM294 307h2v2h-2zM295 310h2v2h-2zM305 319h2v2h-2zM314 330h2v2h-2zM333 349h2v2h-2zM340 354h2v2h-2zM244 254h2v2h-2zM262 273h2v2h-2zM267 279h2v2h-2zM293 304h2v2h-2zM308 321h2v2h-2zM314 327h2v2h-2zM317 329h2v2h-2zM334 346h2v2h-2zM342 355h2v2h-2zM274 282h2v2h-2zM282 292h2v2h-2zM310 320h2v2h-2zM315 323h2v2h-2zM317 326h2v2h-2zM320 329h2v2h-2zM333 342h2v2h-2zM335 345h2v2h-2zM339 348h2v2h-2zM342 351h2v2h-2zM248 253h2v2h-2zM266 272h2v2h-2zM279 285h2v2h-2zM286 291h2v2h-2zM289 294h2v2h-2zM292 297h2v2h-2zM294 301h2v2h-2zM298 305h2v2h-2zM311 316h2v2h-2zM316 324h2v2h-2zM320 326h2v2h-2zM323 329h2v2h-2zM332 338h2v2h-2zM338 346h2v2h-2zM345 352h2v2h-2zM260 265h2v2h-2zM264 267h2v2h-2zM265 271h2v2h-2zM278 283h2v2h-2zM291 296h2v2h-2zM293 299h2v2h-2zM301 305h2v2h-2zM309 316h2v2h-2zM316 321h2v2h-2zM328 335h2v2h-2zM337 344h2v2h-2zM343 350h2v2h-2zM253 253h2v2h-2zM262 262h2v2h-2zM272 272h2v2h-2zM275 274h2v2h-2zM293 294h2v2h-2zM297 297h2v2h-2zM305 308h2v2h-2zM316 316h2v2h-2zM324 326h2v2h-2zM328 330h2v2h-2zM330 333h2v2h-2zM333 336h2v2h-2zM346 348h2v2h-2zM280 277h2v2h-2zM293 292h2v2h-2zM309 306h2v2h-2zM321 319h2v2h-2zM327 327h2v2h-2zM336 335h2v2h-2zM342 342h2v2h-2zM345 345h2v2h-2zM349 348h2v2h-2zM264 261h2v2h-2zM277 273h2v2h-2zM289 286h2v2h-2zM298 295h2v2h-2zM302 300h2v2h-2zM304 302h2v2h-2zM308 306h2v2h-2zM314 311h2v2h-2zM321 318h2v2h-2zM327 325h2v2h-2zM330 327h2v2h-2zM332 331h2v2h-2zM335 335h2v2h-2zM339 337h2v2h-2zM343 341h2v2h-2zM352 350h2v2h-2zM261 253h2v2h-2zM273 266h2v2h-2zM304 298h2v2h-2zM314 308h2v2h-2zM320 314h2v2h-2zM323 317h2v2h-2zM326 321h2v2h-2zM330 324h2v2h-2zM336 330h2v2h-2zM339 333h2v2h-2zM346 340h2v2h-2zM348 343h2v2h-2zM351 347h2v2h-2zM279 268h2v2h-2zM317 308h2v2h-2zM329 320h2v2h-2zM333 323h2v2h-2zM338 331h2v2h-2zM342 332h2v2h-2zM351 343h2v2h-2zM353 346h2v2h-2zM283 269h2v2h-2zM285 273h2v2h-2zM289 275h2v2h-2zM291 278h2v2h-2zM304 291h2v2h-2zM314 301h2v2h-2zM316 304h2v2h-2zM326 313h2v2h-2zM332 320h2v2h-2zM335 323h2v2h-2zM345 332h2v2h-2zM348 336h2v2h-2zM350 339h2v2h-2zM268 253h2v2h-2zM293 279h2v2h-2zM297 282h2v2h-2zM300 285h2v2h-2zM303 287h2v2h-2zM305 291h2v2h-2zM313 298h2v2h-2zM322 307h2v2h-2zM327 314h2v2h-2zM330 316h2v2h-2zM333 320h2v2h-2zM340 327h2v2h-2zM349 336h2v2h-2zM271 255h2v2h-2zM274 257h2v2h-2zM298 284h2v2h-2zM308 293h2v2h-2zM312 295h2v2h-2zM321 305h2v2h-2zM327 312h2v2h-2zM334 319h2v2h-2zM336 321h2v2h-2zM340 325h2v2h-2zM346 331h2v2h-2zM348 334h2v2h-2zM357 345h2v2h-2zM277 256h2v2h-2zM283 263h2v2h-2zM292 271h2v2h-2zM339 319h2v2h-2zM345 326h2v2h-2zM351 332h2v2h-2zM360 342h2v2h-2zM302 280h2v2h-2zM310 289h2v2h-2zM320 300h2v2h-2zM325 306h2v2h-2zM329 309h2v2h-2zM341 321h2v2h-2zM345 325h2v2h-2zM348 327h2v2h-2zM350 331h2v2h-2zM354 334h2v2h-2zM279 255h2v2h-2zM292 268h2v2h-2zM295 271h2v2h-2zM304 280h2v2h-2zM307 283h2v2h-2zM309 286h2v2h-2zM332 309h2v2h-2zM339 316h2v2h-2zM341 318h2v2h-2zM344 322h2v2h-2zM347 325h2v2h-2zM351 328h2v2h-2zM357 335h2v2h-2zM291 264h2v2h-2zM298 270h2v2h-2zM313 287h2v2h-2zM328 304h2v2h-2zM331 306h2v2h-2zM340 316h2v2h-2zM344 319h2v2h-2zM346 322h2v2h-2zM349 325h2v2h-2zM352 329h2v2h-2zM359 335h2v2h-2zM288 256h2v2h-2zM293 263h2v2h-2zM297 265h2v2h-2zM305 276h2v2h-2zM328 298h2v2h-2zM333 303h2v2h-2zM339 311h2v2h-2zM343 314h2v2h-2zM345 316h2v2h-2zM356 327h2v2h-2zM361 333h2v2h-2zM365 336h2v2h-2zM296 263h2v2h-2zM299 267h2v2h-2zM314 282h2v2h-2zM318 285h2v2h-2zM330 297h2v2h-2zM342 311h2v2h-2zM345 314h2v2h-2zM348 317h2v2h-2zM359 326h2v2h-2zM361 329h2v2h-2zM364 333h2v2h-2zM293 257h2v2h-2zM313 280h2v2h-2zM323 289h2v2h-2zM335 303h2v2h-2zM338 305h2v2h-2zM347 316h2v2h-2zM357 324h2v2h-2zM360 329h2v2h-2zM363 331h2v2h-2zM292 254h2v2h-2zM301 263h2v2h-2zM336 299h2v2h-2zM337 301h2v2h-2zM348 311h2v2h-2zM351 314h2v2h-2zM353 317h2v2h-2zM360 323h2v2h-2zM297 258h2v2h-2zM301 261h2v2h-2zM304 264h2v2h-2zM307 268h2v2h-2zM313 274h2v2h-2zM316 277h2v2h-2zM322 284h2v2h-2zM326 286h2v2h-2zM332 294h2v2h-2zM338 300h2v2h-2zM344 306h2v2h-2zM347 309h2v2h-2zM354 316h2v2h-2zM356 318h2v2h-2zM359 323h2v2h-2zM362 326h2v2h-2zM303 261h2v2h-2zM307 264h2v2h-2zM312 270h2v2h-2zM328 287h2v2h-2zM337 296h2v2h-2zM340 299h2v2h-2zM347 305h2v2h-2zM350 309h2v2h-2zM353 312h2v2h-2zM355 316h2v2h-2zM359 319h2v2h-2zM362 322h2v2h-2zM303 256h2v2h-2zM306 259h2v2h-2zM309 262h2v2h-2zM315 269h2v2h-2zM318 272h2v2h-2zM322 275h2v2h-2zM327 283h2v2h-2zM330 285h2v2h-2zM336 292h2v2h-2zM339 295h2v2h-2zM352 308h2v2h-2zM355 311h2v2h-2zM358 313h2v2h-2zM362 316h2v2h-2zM305 258h2v2h-2zM307 261h2v2h-2zM311 265h2v2h-2zM315 269h2v2h-2zM324 278h2v2h-2zM327 280h2v2h-2zM330 283h2v2h-2zM336 291h2v2h-2zM361 316h2v2h-2zM364 319h2v2h-2zM367 322h2v2h-2zM304 254h2v2h-2zM308 257h2v2h-2zM311 261h2v2h-2zM314 264h2v2h-2zM333 283h2v2h-2zM341 292h2v2h-2zM351 303h2v2h-2zM358 309h2v2h-2zM361 311h2v2h-2zM364 315h2v2h-2zM367 319h2v2h-2zM315 263h2v2h-2zM319 267h2v2h-2zM322 270h2v2h-2zM328 277h2v2h-2zM332 280h2v2h-2zM335 283h2v2h-2zM341 290h2v2h-2zM343 293h2v2h-2zM350 299h2v2h-2zM357 305h2v2h-2zM360 309h2v2h-2zM362 311h2v2h-2zM365 314h2v2h-2zM369 319h2v2h-2zM372 321h2v2h-2zM325 269h2v2h-2zM331 276h2v2h-2zM335 278h2v2h-2zM337 282h2v2h-2zM347 291h2v2h-2zM349 295h2v2h-2zM353 299h2v2h-2zM359 304h2v2h-2zM365 311h2v2h-2zM369 314h2v2h-2zM312 254h2v2h-2zM315 257h2v2h-2zM318 260h2v2h-2zM324 266h2v2h-2zM328 270h2v2h-2zM333 276h2v2h-2zM337 280h2v2h-2zM342 286h2v2h-2zM345 289h2v2h-2zM350 292h2v2h-2zM352 296h2v2h-2zM355 298h2v2h-2zM359 302h2v2h-2zM365 309h2v2h-2zM367 311h2v2h-2zM371 315h2v2h-2zM316 255h2v2h-2zM317 259h2v2h-2zM331 270h2v2h-2zM336 277h2v2h-2zM346 286h2v2h-2zM349 289h2v2h-2zM351 294h2v2h-2zM357 299h2v2h-2zM364 306h2v2h-2zM367 309h2v2h-2zM371 312h2v2h-2zM318 255h2v2h-2zM321 258h2v2h-2zM324 262h2v2h-2zM327 264h2v2h-2zM332 271h2v2h-2zM342 280h2v2h-2zM344 284h2v2h-2zM354 293h2v2h-2zM358 296h2v2h-2zM361 300h2v2h-2zM367 305h2v2h-2zM370 310h2v2h-2zM323 258h2v2h-2zM327 261h2v2h-2zM329 264h2v2h-2zM333 267h2v2h-2zM335 270h2v2h-2zM345 280h2v2h-2zM351 287h2v2h-2zM354 290h2v2h-2zM358 292h2v2h-2zM361 296h2v2h-2zM367 302h2v2h-2zM370 306h2v2h-2zM372 309h2v2h-2zM325 256h2v2h-2zM347 279h2v2h-2zM359 291h2v2h-2zM363 295h2v2h-2zM366 297h2v2h-2zM368 301h2v2h-2zM376 307h2v2h-2zM379 310h2v2h-2zM328 258h2v2h-2zM331 261h2v2h-2zM341 270h2v2h-2zM343 273h2v2h-2zM349 280h2v2h-2zM365 295h2v2h-2zM368 298h2v2h-2zM371 302h2v2h-2zM374 305h2v2h-2zM328 256h2v2h-2zM331 258h2v2h-2zM344 272h2v2h-2zM362 291h2v2h-2zM364 293h2v2h-2zM375 303h2v2h-2zM378 307h2v2h-2zM381 309h2v2h-2zM330 252h2v2h-2zM346 268h2v2h-2zM362 285h2v2h-2zM365 288h2v2h-2zM370 294h2v2h-2zM378 301h2v2h-2zM380 304h2v2h-2zM383 308h2v2h-2zM337 258h2v2h-2zM342 264h2v2h-2zM349 270h2v2h-2zM355 278h2v2h-2zM358 280h2v2h-2zM362 284h2v2h-2zM367 290h2v2h-2zM373 296h2v2h-2zM377 300h2v2h-2zM380 303h2v2h-2zM385 309h2v2h-2zM336 254h2v2h-2zM339 257h2v2h-2zM341 260h2v2h-2zM349 267h2v2h-2zM355 273h2v2h-2zM361 280h2v2h-2zM363 283h2v2h-2zM367 286h2v2h-2zM370 289h2v2h-2zM376 296h2v2h-2zM385 305h2v2h-2zM338 254h2v2h-2zM340 256h2v2h-2zM347 263h2v2h-2zM351 267h2v2h-2zM353 269h2v2h-2zM356 273h2v2h-2zM366 282h2v2h-2zM372 289h2v2h-2zM376 292h2v2h-2zM381 298h2v2h-2zM385 302h2v2h-2zM343 257h2v2h-2zM346 260h2v2h-2zM359 272h2v2h-2zM362 276h2v2h-2zM366 280h2v2h-2zM368 282h2v2h-2zM378 292h2v2h-2zM381 295h2v2h-2zM387 302h2v2h-2zM349 260h2v2h-2zM355 266h2v2h-2zM359 270h2v2h-2zM371 283h2v2h-2zM374 286h2v2h-2zM381 292h2v2h-2zM383 295h2v2h-2zM387 298h2v2h-2zM389 302h2v2h-2zM352 260h2v2h-2zM355 264h2v2h-2zM359 267h2v2h-2zM361 271h2v2h-2zM364 274h2v2h-2zM367 276h2v2h-2zM374 283h2v2h-2zM380 289h2v2h-2zM383 294h2v2h-2zM387 295h2v2h-2zM390 299h2v2h-2zM392 302h2v2h-2zM348 253h2v2h-2zM351 257h2v2h-2zM355 260h2v2h-2zM358 263h2v2h-2zM361 266h2v2h-2zM364 269h2v2h-2zM367 272h2v2h-2zM369 276h2v2h-2zM382 289h2v2h-2zM386 292h2v2h-2zM391 299h2v2h-2zM354 258h2v2h-2zM358 262h2v2h-2zM364 267h2v2h-2zM366 271h2v2h-2zM369 274h2v2h-2zM375 280h2v2h-2zM378 283h2v2h-2zM382 288h2v2h-2zM385 290h2v2h-2zM388 292h2v2h-2zM391 296h2v2h-2zM353 253h2v2h-2zM360 258h2v2h-2zM363 262h2v2h-2zM369 269h2v2h-2zM374 275h2v2h-2zM381 281h2v2h-2zM385 285h2v2h-2zM388 288h2v2h-2zM390 291h2v2h-2zM397 297h2v2h-2zM356 255h2v2h-2zM365 264h2v2h-2zM371 271h2v2h-2zM375 274h2v2h-2zM381 280h2v2h-2zM387 287h2v2h-2zM393 293h2v2h-2zM396 296h2v2h-2zM357 253h2v2h-2zM362 256h2v2h-2zM364 259h2v2h-2zM371 265h2v2h-2zM374 269h2v2h-2zM377 272h2v2h-2zM380 275h2v2h-2zM384 278h2v2h-2zM386 282h2v2h-2zM390 285h2v2h-2zM392 289h2v2h-2zM395 292h2v2h-2zM399 295h2v2h-2zM361 254h2v2h-2zM373 267h2v2h-2zM377 270h2v2h-2zM379 273h2v2h-2zM382 276h2v2h-2zM386 279h2v2h-2zM388 282h2v2h-2zM363 255h2v2h-2zM365 258h2v2h-2zM372 265h2v2h-2zM375 268h2v2h-2zM379 271h2v2h-2zM388 281h2v2h-2zM391 284h2v2h-2zM393 288h2v2h-2zM399 294h2v2h-2zM365 254h2v2h-2zM369 257h2v2h-2zM372 260h2v2h-2zM375 264h2v2h-2zM378 266h2v2h-2zM380 269h2v2h-2zM384 274h2v2h-2zM388 276h2v2h-2zM393 283h2v2h-2zM396 285h2v2h-2zM400 290h2v2h-2zM403 292h2v2h-2zM369 253h2v2h-2zM372 256h2v2h-2zM377 263h2v2h-2zM380 267h2v2h-2zM384 270h2v2h-2zM390 275h2v2h-2zM393 279h2v2h-2zM399 286h2v2h-2zM401 288h2v2h-2zM414 302h2v2h-2zM370 255h2v2h-2zM373 257h2v2h-2zM377 262h2v2h-2zM391 278h2v2h-2zM395 280h2v2h-2zM401 286h2v2h-2zM404 290h2v2h-2zM410 296h2v2h-2zM373 254h2v2h-2zM375 256h2v2h-2zM390 273h2v2h-2zM395 275h2v2h-2zM398 278h2v2h-2zM404 285h2v2h-2zM406 288h2v2h-2zM375 253h2v2h-2zM381 259h2v2h-2zM384 263h2v2h-2zM394 272h2v2h-2zM397 276h2v2h-2zM403 282h2v2h-2zM416 295h2v2h-2zM381 257h2v2h-2zM384 261h2v2h-2zM387 263h2v2h-2zM389 267h2v2h-2zM399 276h2v2h-2zM402 279h2v2h-2zM405 282h2v2h-2zM409 286h2v2h-2zM412 289h2v2h-2zM414 292h2v2h-2zM383 259h2v2h-2zM386 261h2v2h-2zM392 268h2v2h-2zM396 271h2v2h-2zM398 274h2v2h-2zM403 278h2v2h-2zM404 280h2v2h-2zM408 284h2v2h-2zM412 287h2v2h-2zM415 290h2v2h-2zM417 293h2v2h-2zM383 254h2v2h-2zM386 258h2v2h-2zM402 273h2v2h-2zM405 276h2v2h-2zM408 279h2v2h-2zM412 282h2v2h-2zM418 289h2v2h-2zM421 293h2v2h-2zM424 295h2v2h-2zM385 254h2v2h-2zM388 258h2v2h-2zM395 263h2v2h-2zM397 268h2v2h-2zM401 270h2v2h-2zM407 277h2v2h-2zM410 280h2v2h-2zM413 284h2v2h-2zM417 286h2v2h-2zM419 290h2v2h-2zM422 293h2v2h-2zM425 297h2v2h-2zM387 255h2v2h-2zM390 258h2v2h-2zM394 261h2v2h-2zM396 263h2v2h-2zM407 274h2v2h-2zM410 276h2v2h-2zM412 279h2v2h-2zM415 283h2v2h-2zM419 286h2v2h-2zM425 293h2v2h-2zM428 295h2v2h-2zM391 254h2v2h-2zM396 261h2v2h-2zM401 265h2v2h-2zM403 267h2v2h-2zM412 277h2v2h-2zM415 279h2v2h-2zM419 284h2v2h-2zM421 286h2v2h-2zM424 289h2v2h-2zM427 292h2v2h-2zM431 295h2v2h-2zM399 260h2v2h-2zM402 263h2v2h-2zM406 266h2v2h-2zM409 270h2v2h-2zM411 274h2v2h-2zM415 276h2v2h-2zM417 279h2v2h-2zM424 286h2v2h-2zM430 292h2v2h-2zM395 254h2v2h-2zM401 260h2v2h-2zM404 263h2v2h-2zM408 266h2v2h-2zM411 270h2v2h-2zM415 274h2v2h-2zM416 277h2v2h-2zM423 283h2v2h-2zM426 287h2v2h-2zM429 290h2v2h-2zM435 295h2v2h-2zM401 258h2v2h-2zM405 260h2v2h-2zM408 264h2v2h-2zM409 267h2v2h-2zM414 271h2v2h-2zM417 274h2v2h-2zM422 279h2v2h-2zM428 286h2v2h-2zM434 292h2v2h-2zM438 296h2v2h-2zM442 300h2v2h-2zM400 254h2v2h-2zM404 257h2v2h-2zM412 267h2v2h-2zM422 277h2v2h-2zM428 282h2v2h-2zM431 287h2v2h-2zM434 289h2v2h-2zM437 294h2v2h-2zM441 295h2v2h-2zM444 299h2v2h-2zM403 254h2v2h-2zM406 257h2v2h-2zM410 259h2v2h-2zM413 263h2v2h-2zM416 267h2v2h-2zM419 269h2v2h-2zM421 272h2v2h-2zM425 275h2v2h-2zM431 281h2v2h-2zM439 291h2v2h-2zM444 295h2v2h-2zM446 298h2v2h-2zM449 302h2v2h-2zM409 256h2v2h-2zM411 259h2v2h-2zM415 262h2v2h-2zM417 266h2v2h-2zM421 268h2v2h-2zM428 275h2v2h-2zM430 278h2v2h-2zM434 282h2v2h-2zM436 285h2v2h-2zM440 287h2v2h-2zM442 291h2v2h-2zM447 295h2v2h-2zM449 298h2v2h-2zM453 300h2v2h-2zM455 304h2v2h-2zM411 257h2v2h-2zM414 260h2v2h-2zM418 263h2v2h-2zM421 267h2v2h-2zM430 277h2v2h-2zM433 279h2v2h-2zM446 293h2v2h-2zM449 296h2v2h-2zM453 299h2v2h-2zM455 302h2v2h-2zM411 255h2v2h-2zM415 258h2v2h-2zM418 260h2v2h-2zM421 265h2v2h-2zM428 272h2v2h-2zM430 274h2v2h-2zM433 277h2v2h-2zM440 284h2v2h-2zM442 288h2v2h-2zM446 291h2v2h-2zM448 294h2v2h-2zM455 299h2v2h-2zM414 255h2v2h-2zM418 258h2v2h-2zM420 261h2v2h-2zM423 265h2v2h-2zM429 272h2v2h-2zM435 277h2v2h-2zM438 281h2v2h-2zM441 284h2v2h-2zM445 287h2v2h-2zM458 299h2v2h-2zM460 303h2v2h-2zM423 260h2v2h-2zM425 263h2v2h-2zM429 267h2v2h-2zM432 269h2v2h-2zM435 272h2v2h-2zM439 275h2v2h-2zM445 282h2v2h-2zM447 285h2v2h-2zM450 288h2v2h-2zM457 295h2v2h-2zM460 298h2v2h-2zM463 301h2v2h-2zM419 254h2v2h-2zM422 257h2v2h-2zM425 260h2v2h-2zM434 270h2v2h-2zM443 278h2v2h-2zM447 283h2v2h-2zM450 286h2v2h-2zM453 288h2v2h-2zM456 291h2v2h-2zM460 295h2v2h-2zM425 258h2v2h-2zM428 261h2v2h-2zM434 268h2v2h-2zM437 271h2v2h-2zM440 273h2v2h-2zM442 277h2v2h-2zM446 281h2v2h-2zM450 283h2v2h-2zM452 286h2v2h-2zM455 290h2v2h-2zM459 294h2v2h-2zM461 297h2v2h-2zM465 301h2v2h-2zM431 260h2v2h-2zM433 262h2v2h-2zM439 270h2v2h-2zM442 273h2v2h-2zM446 275h2v2h-2zM450 279h2v2h-2zM453 282h2v2h-2zM461 291h2v2h-2zM428 254h2v2h-2zM430 258h2v2h-2zM433 261h2v2h-2zM436 264h2v2h-2zM439 266h2v2h-2zM442 270h2v2h-2zM446 273h2v2h-2zM448 277h2v2h-2zM452 279h2v2h-2zM455 282h2v2h-2zM458 286h2v2h-2zM461 288h2v2h-2zM464 292h2v2h-2zM468 296h2v2h-2zM430 254h2v2h-2zM433 257h2v2h-2zM438 264h2v2h-2zM443 267h2v2h-2zM446 271h2v2h-2zM451 277h2v2h-2zM458 283h2v2h-2zM460 286h2v2h-2zM464 289h2v2h-2zM466 293h2v2h-2zM469 295h2v2h-2zM433 255h2v2h-2zM436 258h2v2h-2zM438 262h2v2h-2zM451 274h2v2h-2zM455 277h2v2h-2zM463 287h2v2h-2zM466 290h2v2h-2zM435 254h2v2h-2zM437 256h2v2h-2zM441 260h2v2h-2zM447 266h2v2h-2zM449 270h2v2h-2zM454 274h2v2h-2zM456 277h2v2h-2zM460 280h2v2h-2zM462 282h2v2h-2zM466 286h2v2h-2zM469 288h2v2h-2zM472 292h2v2h-2zM445 263h2v2h-2zM449 268h2v2h-2zM453 270h2v2h-2zM459 277h2v2h-2zM471 290h2v2h-2zM474 293h2v2h-2zM440 255h2v2h-2zM446 261h2v2h-2zM454 271h2v2h-2zM461 277h2v2h-2zM464 280h2v2h-2zM470 286h2v2h-2zM445 258h2v2h-2zM448 261h2v2h-2zM452 264h2v2h-2zM454 267h2v2h-2zM458 271h2v2h-2zM461 275h2v2h-2zM467 280h2v2h-2zM471 283h2v2h-2zM474 287h2v2h-2zM444 253h2v2h-2zM454 262h2v2h-2zM456 265h2v2h-2zM460 270h2v2h-2zM464 272h2v2h-2zM466 275h2v2h-2zM469 278h2v2h-2zM471 281h2v2h-2zM475 284h2v2h-2zM478 289h2v2h-2zM447 253h2v2h-2zM449 257h2v2h-2zM456 262h2v2h-2zM466 272h2v2h-2zM468 276h2v2h-2zM471 279h2v2h-2zM474 283h2v2h-2zM478 286h2v2h-2zM480 289h2v2h-2zM449 254h2v2h-2zM456 261h2v2h-2zM459 264h2v2h-2zM465 270h2v2h-2zM467 274h2v2h-2zM474 280h2v2h-2zM477 284h2v2h-2zM480 286h2v2h-2zM452 254h2v2h-2zM455 257h2v2h-2zM458 260h2v2h-2zM461 264h2v2h-2zM465 267h2v2h-2zM467 269h2v2h-2zM471 272h2v2h-2zM477 279h2v2h-2zM480 281h2v2h-2zM487 289h2v2h-2zM455 254h2v2h-2zM464 263h2v2h-2zM467 267h2v2h-2zM471 270h2v2h-2zM476 276h2v2h-2zM483 283h2v2h-2zM486 286h2v2h-2zM457 253h2v2h-2zM459 255h2v2h-2zM467 263h2v2h-2zM470 265h2v2h-2zM472 269h2v2h-2zM479 275h2v2h-2zM481 279h2v2h-2zM485 281h2v2h-2zM459 254h2v2h-2zM463 258h2v2h-2zM466 261h2v2h-2zM478 274h2v2h-2zM483 281h2v2h-2zM487 284h2v2h-2zM490 287h2v2h-2zM465 258h2v2h-2zM468 261h2v2h-2zM475 269h2v2h-2zM478 272h2v2h-2zM481 275h2v2h-2zM483 277h2v2h-2zM490 284h2v2h-2zM465 254h2v2h-2zM471 260h2v2h-2zM473 263h2v2h-2zM477 266h2v2h-2zM480 269h2v2h-2zM484 272h2v2h-2zM489 280h2v2h-2zM493 282h2v2h-2zM467 255h2v2h-2zM470 259h2v2h-2zM473 262h2v2h-2zM476 265h2v2h-2zM483 271h2v2h-2zM486 274h2v2h-2zM489 278h2v2h-2zM492 281h2v2h-2zM469 253h2v2h-2zM476 260h2v2h-2zM479 262h2v2h-2zM482 266h2v2h-2zM486 269h2v2h-2zM489 273h2v2h-2zM491 276h2v2h-2zM495 280h2v2h-2zM472 254h2v2h-2zM474 256h2v2h-2zM478 259h2v2h-2zM482 262h2v2h-2zM485 266h2v2h-2zM488 269h2v2h-2zM494 276h2v2h-2zM497 279h2v2h-2zM475 253h2v2h-2zM478 256h2v2h-2zM481 260h2v2h-2zM487 266h2v2h-2zM496 276h2v2h-2zM499 279h2v2h-2zM503 283h2v2h-2zM477 253h2v2h-2zM480 257h2v2h-2zM486 263h2v2h-2zM490 266h2v2h-2zM495 272h2v2h-2zM499 276h2v2h-2zM501 278h2v2h-2zM482 259h2v2h-2zM486 262h2v2h-2zM489 264h2v2h-2zM497 275h2v2h-2zM500 278h2v2h-2zM481 252h2v2h-2zM486 257h2v2h-2zM488 260h2v2h-2zM491 262h2v2h-2zM494 267h2v2h-2zM501 272h2v2h-2zM508 279h2v2h-2zM488 257h2v2h-2zM490 260h2v2h-2zM493 264h2v2h-2zM497 267h2v2h-2zM500 270h2v2h-2zM506 277h2v2h-2zM509 280h2v2h-2zM487 253h2v2h-2zM491 256h2v2h-2zM494 259h2v2h-2zM496 263h2v2h-2zM500 265h2v2h-2zM503 269h2v2h-2zM505 272h2v2h-2zM513 279h2v2h-2zM489 253h2v2h-2zM493 256h2v2h-2zM497 260h2v2h-2zM505 270h2v2h-2zM508 272h2v2h-2zM511 275h2v2h-2zM495 258h2v2h-2zM498 262h2v2h-2zM501 265h2v2h-2zM504 268h2v2h-2zM507 272h2v2h-2zM511 275h2v2h-2zM514 278h2v2h-2zM495 256h2v2h-2zM498 258h2v2h-2zM501 262h2v2h-2zM507 267h2v2h-2zM510 271h2v2h-2zM513 273h2v2h-2zM497 253h2v2h-2zM510 266h2v2h-2zM512 270h2v2h-2zM499 255h2v2h-2zM506 261h2v2h-2zM508 264h2v2h-2zM514 270h2v2h-2zM502 252h2v2h-2zM505 255h2v2h-2zM507 260h2v2h-2zM511 262h2v2h-2zM515 266h2v2h-2zM510 261h2v2h-2zM513 264h2v2h-2zM507 253h2v2h-2zM510 255h2v2h-2zM513 258h2v2h-2zM510 254h2v2h-2zM513 258h2v2h-2zM514 257h2v2h-2zM80 269h2v2h-2zM82 270h2v2h-2zM84 278h2v2h-2zM89 281h2v2h-2zM93 285h2v2h-2zM96 286h2v2h-2zM99 284h2v2h-2zM100 285h2v2h-2zM105 288h2v2h-2zM107 292h2v2h-2zM110 292h2v2h-2zM112 295h2v2h-2zM114 294h2v2h-2zM116 298h2v2h-2zM118 298h2v2h-2zM120 299h2v2h-2zM123 298h2v2h-2zM124 297h2v2h-2zM127 297h2v2h-2zM128 298h2v2h-2zM131 298h2v2h-2zM135 301h2v2h-2zM137 302h2v2h-2zM138 305h2v2h-2zM140 305h2v2h-2zM142 308h2v2h-2zM145 308h2v2h-2zM150 308h2v2h-2zM151 308h2v2h-2z" fill="#06066e"/>
<rect x="480" y="289" width="2" height="2" fill="#0000ed"/>
<rect x="480" y="286" width="2" height="2" fill="#0000e9"/>
<rect x="487" y="289" width="2" height="2" fill="#001aff"/>
<rect x="486" y="286" width="2" height="2" fill="#0003ff"/>
<rect x="487" y="284" width="2" height="2" fill="#0000f6"/>
<rect x="490" y="287" width="2" height="2" fill="#0023ff"/>
<rect x="490" y="284" width="2" height="2" fill="#0007ff"/>
<rect x="493" y="282" width="2" height="2" fill="#0000fa"/>
<rect x="503" y="283" width="2" height="2" fill="#0055ff"/>
<rect x="508" y="279" width="2" height="2" fill="#0044ff"/>
<rect x="509" y="280" width="2" height="2" fill="#0069ff"/>
<rect x="513" y="279" width="2" height="2" fill="#0087ff"/>
<rect x="514" y="278" width="2" height="2" fill="#0086ff"/>
<rect x="518" y="273" width="2" height="2" fill="#0014ff"/>
<rect x="517" y="268" width="2" height="2" fill="#0000e0"/>
<rect x="517" y="268" width="2" height="2" fill="#0000e1"/>
<rect x="519" y="270" width="2" height="2" fill="#0000f2"/>
<rect x="520" y="266" width="2" height="2" fill="#0000ea"/>
<rect x="521" y="267" width="2" height="2" fill="#0000ef"/>
<rect x="526" y="270" width="2" height="2" fill="#24ffda"/>
<rect x="518" y="260" width="2" height="2" fill="#0000e3"/>
<rect x="521" y="263" width="2" height="2" fill="#0000ed"/>
<rect x="524" y="266" width="2" height="2" fill="#0023ff"/>
<rect x="515" y="255" width="2" height="2" fill="#0000dc"/>
<rect x="522" y="261" width="2" height="2" fill="#0000ef"/>
<rect x="525" y="264" width="2" height="2" fill="#0000f8"/>
<rect x="528" y="267" width="2" height="2" fill="#00f9ff"/>
<rect x="517" y="254" width="2" height="2" fill="#0000e0"/>
<rect x="520" y="257" width="2" height="2" fill="#0000e9"/>
<rect x="524" y="260" width="2" height="2" fill="#0000f7"/>
<rect x="526" y="264" width="2" height="2" fill="#000fff"/>
<rect x="520" y="254" width="2" height="2" fill="#0000e9"/>
<rect x="522" y="256" width="2" height="2" fill="#0000f1"/>
<rect x="526" y="260" width="2" height="2" fill="#0000fc"/>
<rect x="531" y="267" width="2" height="2" fill="#32ffcc"/>
<rect x="523" y="255" width="2" height="2" fill="#0000f3"/>
<rect x="531" y="264" width="2" height="2" fill="#0093ff"/>
<rect x="525" y="253" width="2" height="2" fill="#0000f8"/>
<rect x="528" y="257" width="2" height="2" fill="#0004ff"/>
<rect x="531" y="260" width="2" height="2" fill="#000dff"/>
<rect x="535" y="264" width="2" height="2" fill="#00d1ff"/>
<rect x="531" y="257" width="2" height="2" fill="#000cff"/>
<rect x="534" y="260" width="2" height="2" fill="#0015ff"/>
<rect x="530" y="253" width="2" height="2" fill="#000aff"/>
<rect x="533" y="256" width="2" height="2" fill="#0013ff"/>
<rect x="535" y="257" width="2" height="2" fill="#0019ff"/>
<rect x="538" y="252" width="2" height="2" fill="#000090"/>
<rect x="538" y="255" width="2" height="2" fill="#3070d0"/>
<rect x="538" y="257" width="2" height="2" fill="#2898d8"/>
<rect x="538" y="259" width="2" height="2" fill="#20b0d0"/>
<rect x="538" y="261" width="2" height="2" fill="#20b0c8"/>
<rect x="538" y="263" width="2" height="2" fill="#108898"/>
<rect x="538" y="265" width="2" height="2" fill="#203030"/>
<rect x="536" y="265" width="2" height="2" fill="#60c040"/>
<rect x="534" y="266" width="2" height="2" fill="#800000"/>
<rect x="532" y="266" width="2" height="2" fill="#f0d020"/>
<rect x="530" y="265" width="2" height="2" fill="#30d8d0"/>
<rect x="528" y="265" width="2" height="2" fill="#30c0e8"/>
<rect x="526" y="263" width="2" height="2" fill="#2080f0"/>
<rect x="524" y="262" width="2" height="2" fill="#2080f0"/>
<rect x="521" y="272" width="2" height="2" fill="#2070e0"/>
<rect x="519" y="275" width="2" height="2" fill="#2070e0"/>
<rect x="528" y="257" width="2" height="2" fill="#0010e0"/>
<rect x="524" y="261" width="2" height="2" fill="#0010e0"/>
<rect x="524" y="258" width="2" height="2" fill="#0010e0"/>
<rect x="530" y="258" width="2" height="2" fill="#0010e0"/>
<rect x="524" y="256" width="2" height="2" fill="#0010e0"/>
<rect x="528" y="255" width="2" height="2" fill="#0010e0"/>
<rect x="522" y="260" width="2" height="2" fill="#0010e0"/>
<rect x="523" y="256" width="2" height="2" fill="#0010e0"/>
<rect x="526" y="257" width="2" height="2" fill="#0010e0"/>
<rect x="525" y="254" width="2" height="2" fill="#0010e0"/>
<rect x="528" y="261" width="2" height="2" fill="#0010e0"/>
<rect x="524" y="254" width="2" height="2" fill="#0010e0"/>
<rect x="530" y="254" width="2" height="2" fill="#0010e0"/>
<rect x="528" y="258" width="2" height="2" fill="#0010e0"/>
<rect x="531" y="258" width="2" height="2" fill="#0010e0"/>
<rect x="527" y="254" width="2" height="2" fill="#0010e0"/>
<rect x="530" y="254" width="2" height="2" fill="#0010e0"/>
<rect x="521" y="261" width="2" height="2" fill="#0010e0"/>
<rect x="527" y="257" width="2" height="2" fill="#0010e0"/>
<rect x="521" y="258" width="2" height="2" fill="#0010e0"/>
<rect x="528" y="254" width="2" height="2" fill="#0010e0"/>
<rect x="531" y="255" width="2" height="2" fill="#0010e0"/>
<rect x="524" y="256" width="2" height="2" fill="#0010e0"/>
<rect x="526" y="260" width="2" height="2" fill="#0010e0"/>
<rect x="523" y="259" width="2" height="2" fill="#0010e0"/>
<rect x="525" y="258" width="2" height="2" fill="#0010e0"/>
<rect x="513" y="256" width="2" height="2" fill="#0000a8"/>
<rect x="519" y="267" width="2" height="2" fill="#0000a8"/>
<rect x="508" y="271" width="2" height="2" fill="#0000a8"/>
<rect x="516" y="266" width="2" height="2" fill="#0000a8"/>
<rect x="515" y="267" width="2" height="2" fill="#0000a8"/>
<rect x="522" y="254" width="2" height="2" fill="#0000a8"/>
<rect x="511" y="257" width="2" height="2" fill="#0000a8"/>
<rect x="517" y="259" width="2" height="2" fill="#0000a8"/>
<rect x="509" y="271" width="2" height="2" fill="#0000a8"/>
<rect x="519" y="264" width="2" height="2" fill="#0000a8"/>
<rect x="517" y="262" width="2" height="2" fill="#0000a8"/>
<rect x="505" y="259" width="2" height="2" fill="#0000a8"/>
<rect x="519" y="271" width="2" height="2" fill="#0000a8"/>
<rect x="510" y="266" width="2" height="2" fill="#0000a8"/>
<rect x="511" y="264" width="2" height="2" fill="#0000a8"/>
<rect x="518" y="272" width="2" height="2" fill="#0000a8"/>
<rect x="505" y="258" width="2" height="2" fill="#0000a8"/>
<rect x="518" y="269" width="2" height="2" fill="#0000a8"/>
<rect x="508" y="264" width="2" height="2" fill="#0000a8"/>
<rect x="517" y="268" width="2" height="2" fill="#0000a8"/>
<rect x="509" y="260" width="2" height="2" fill="#0000a8"/>
<rect x="507" y="256" width="2" height="2" fill="#0000a8"/>
<rect x="520" y="272" width="2" height="2" fill="#0000a8"/>
<rect x="511" y="259" width="2" height="2" fill="#0000a8"/>
<rect x="520" y="257" width="2" height="2" fill="#0000a8"/>
<rect x="517" y="267" width="2" height="2" fill="#0000a8"/>
<rect x="509" y="267" width="2" height="2" fill="#0000a8"/>
<rect x="520" y="269" width="2" height="2" fill="#0000a8"/>
<rect x="507" y="266" width="2" height="2" fill="#0000a8"/>
<rect x="512" y="260" width="2" height="2" fill="#0000a8"/>
</g>
<g shape-rendering="crispEdges" fill="#000">
<rect x="77" y="252" width="1" height="150"/><rect x="77" y="401" width="467" height="1"/>
<rect x="78" y="252" width="5" height="1"/>
<rect x="78" y="289" width="5" height="1"/>
<rect x="78" y="325" width="5" height="1"/>
<rect x="78" y="362" width="5" height="1"/>
<rect x="78" y="399" width="5" height="1"/>
<rect x="121" y="396" width="1" height="5"/>
<rect x="165" y="396" width="1" height="5"/>
<rect x="209" y="396" width="1" height="5"/>
<rect x="253" y="396" width="1" height="5"/>
<rect x="297" y="396" width="1" height="5"/>
<rect x="340" y="396" width="1" height="5"/>
<rect x="384" y="396" width="1" height="5"/>
<rect x="428" y="396" width="1" height="5"/>
<rect x="472" y="396" width="1" height="5"/>
<rect x="516" y="396" width="1" height="5"/>
</g>
<text x="310" y="26.5" font-size="14.5" text-anchor="middle" textLength="340" lengthAdjust="spacing">BackScatter: Gridded data (1km x 4m) (pcolor plot)</text>
<text x="310" y="240.5" font-size="14.5" text-anchor="middle" textLength="412" lengthAdjust="spacing">BackScatter: Full data set (scatter plot, every 10th point used)</text>
<text x="309" y="435" font-size="14.5" text-anchor="middle" textLength="91" lengthAdjust="spacing">Distance, (km)</text>
<text x="77.0" y="204.5" font-size="14" text-anchor="middle">0</text>
<text x="77.0" y="417.5" font-size="14" text-anchor="middle">0</text>
<text x="120.9" y="204.5" font-size="14" text-anchor="middle">10</text>
<text x="120.9" y="417.5" font-size="14" text-anchor="middle">10</text>
<text x="164.8" y="204.5" font-size="14" text-anchor="middle">20</text>
<text x="164.8" y="417.5" font-size="14" text-anchor="middle">20</text>
<text x="208.7" y="204.5" font-size="14" text-anchor="middle">30</text>
<text x="208.7" y="417.5" font-size="14" text-anchor="middle">30</text>
<text x="252.6" y="204.5" font-size="14" text-anchor="middle">40</text>
<text x="252.6" y="417.5" font-size="14" text-anchor="middle">40</text>
<text x="296.5" y="204.5" font-size="14" text-anchor="middle">50</text>
<text x="296.5" y="417.5" font-size="14" text-anchor="middle">50</text>
<text x="340.4" y="204.5" font-size="14" text-anchor="middle">60</text>
<text x="340.4" y="417.5" font-size="14" text-anchor="middle">60</text>
<text x="384.3" y="204.5" font-size="14" text-anchor="middle">70</text>
<text x="384.3" y="417.5" font-size="14" text-anchor="middle">70</text>
<text x="428.2" y="204.5" font-size="14" text-anchor="middle">80</text>
<text x="428.2" y="417.5" font-size="14" text-anchor="middle">80</text>
<text x="472.1" y="204.5" font-size="14" text-anchor="middle">90</text>
<text x="472.1" y="417.5" font-size="14" text-anchor="middle">90</text>
<text x="516.0" y="204.5" font-size="14" text-anchor="middle">100</text>
<text x="516.0" y="417.5" font-size="14" text-anchor="middle">100</text>
<text x="74" y="42.8" font-size="14" text-anchor="end">0</text>
<text x="74" y="79.8" font-size="14" text-anchor="end">50</text>
<text x="74" y="116.8" font-size="14" text-anchor="end">100</text>
<text x="74" y="153.8" font-size="14" text-anchor="end">150</text>
<text x="74" y="190.8" font-size="14" text-anchor="end">200</text>
<text x="74" y="256.8" font-size="14" text-anchor="end">0</text>
<text x="74" y="293.1" font-size="14" text-anchor="end">50</text>
<text x="74" y="330.1" font-size="14" text-anchor="end">100</text>
<text x="74" y="367.1" font-size="14" text-anchor="end">150</text>
<text x="74" y="403.8" font-size="14" text-anchor="end">200</text>
<text transform="translate(45,115) rotate(-90)" font-size="14.2" text-anchor="middle" textLength="62" lengthAdjust="spacing">Depth,(m)</text>
<text transform="translate(45,327.7) rotate(-90)" font-size="14.2" text-anchor="middle" textLength="62" lengthAdjust="spacing">Depth,(m)</text>
</svg></body></html>
